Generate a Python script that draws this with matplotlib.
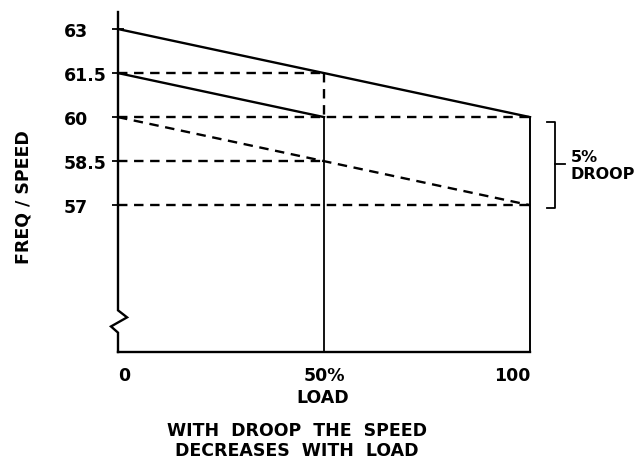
import matplotlib
matplotlib.use("Agg")
import matplotlib.pyplot as plt

# ---- data ----
freq_ticks = [63, 61.5, 60, 58.5, 57]
freq_labels = ["63", "61.5", "60", "58.5", "57"]
load_ticks = [0, 50, 100]
load_labels = ["0", "50%", "100"]

# solid droop lines (load, freq)
droop_a_load = [0, 100]
droop_a_freq = [63, 60]
droop_b_load = [0, 50]
droop_b_freq = [61.5, 60]
# dashed droop line
droop_c_load = [0, 100]
droop_c_freq = [60, 57]
# dashed reference levels: (freq, load end)
ref_freqs = [61.5, 60, 58.5, 57]
ref_ends = [50, 100, 50, 100]

y_min, y_max = 52.0, 63.58

plt.rcParams['font.family'] = ['DejaVu Sans']
plt.rcParams['font.weight'] = 'bold'

W, H = 639, 460
fig = plt.figure(figsize=(W / 100, H / 100), dpi=100)
ax = fig.add_axes([118 / W, 1 - 353 / H, (530 - 118) / W, (353 - 13) / H])
ax.set_xlim(0, 100)
ax.set_ylim(y_min, y_max)
for s in ax.spines.values():
    s.set_visible(False)

k = 'black'
lw_main = 1.7
dash = (4.0, 2.8)

# left axis with break zigzag
zz_x = [0, 0, 2.2, -1.7, 0, 0]
zz_y = [y_max, 53.42, 53.18, 52.87, 52.66, y_min]
ax.plot(zz_x, zz_y, color=k, lw=lw_main, clip_on=False, solid_joinstyle='miter')
# bottom axis
ax.plot([0, 100], [y_min, y_min], color=k, lw=lw_main, clip_on=False)

# solid droop lines
ax.plot(droop_a_load, droop_a_freq, color=k, lw=lw_main, clip_on=False)
ax.plot(droop_b_load, droop_b_freq, color=k, lw=lw_main, clip_on=False)
# dashed droop line
ax.plot(droop_c_load, droop_c_freq, color=k, lw=lw_main, dashes=dash, clip_on=False)
# dashed reference levels
for f, e in zip(ref_freqs, ref_ends):
    ax.plot([0, e], [f, f], color=k, lw=lw_main, dashes=dash, clip_on=False)
# vertical dashed at 50% between 61.5 and 60
ax.plot([50, 50], [61.5, 60], color=k, lw=lw_main, dashes=dash, clip_on=False)
# solid verticals
ax.plot([50, 50], [y_min, 60], color=k, lw=1.3, clip_on=False)
ax.plot([100, 100], [y_min, 60], color=k, lw=1.4, clip_on=False)

# ticks
ax.set_yticks(freq_ticks)
ax.set_yticklabels(freq_labels, fontsize=12.5, fontweight='bold')
ax.tick_params(axis='y', direction='inout', length=8, width=1.3, pad=35)
for t in ax.get_yticklabels():
    t.set_ha('left')
ax.set_xticks(load_ticks)
ax.set_xticklabels(load_labels, fontsize=12.5, fontweight='bold')
ax.tick_params(axis='x', length=0, pad=10)
xl = ax.get_xticklabels()
xl[0].set_ha('left')
xl[-1].set_ha('right')

# axis labels
fig.text(24 / W, 1 - 197 / H, "FREQ / SPEED", rotation=90, ha='center', va='center',
         fontsize=12.5, fontweight='bold')
fig.text(323 / W, 1 - 398 / H, "LOAD", ha='center', va='center',
         fontsize=12.5, fontweight='bold')
fig.text(297 / W, 1 - 441 / H, "WITH  DROOP  THE  SPEED\nDECREASES  WITH  LOAD",
         ha='center', va='center', fontsize=12.5, fontweight='bold', linespacing=1.2)

# 5% droop bracket
ax.plot([104.1, 106.1, 106.1, 104.1], [59.83, 59.83, 56.9, 56.9], color=k, lw=1.3,
        clip_on=False)
ax.plot([106.1, 108.5], [58.4, 58.4], color=k, lw=1.3, clip_on=False)
ax.text(109.8, 58.38, "5%\nDROOP", ha='left', va='center', fontsize=11.5,
        fontweight='bold', linespacing=1.15)

fig.savefig("out.png", dpi=100)
